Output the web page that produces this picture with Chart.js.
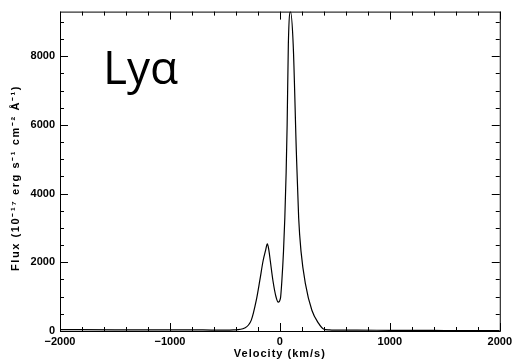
<!DOCTYPE html>
<html>
<head>
<meta charset="utf-8">
<script src="https://cdn.jsdelivr.net/npm/chart.js@4.4.1/dist/chart.umd.min.js"></script>
<style>
  html,body{margin:0;padding:0;background:#fff;}
  #wrap{width:516px;height:363px;position:relative;}
</style>
</head>
<body>
<div id="wrap"><canvas id="c" width="516" height="363"></canvas></div>
<script>
// data
const velocity = [-2000,-1500,-1000,-700,-500,-420,-320,-260,-215,-183,-153,-130,-114,-100,-87,-63,-36,-15,5,18,33,45,57,66,77,96,121,150,171,192,232,291,351,396,450,500,700,1000,1500,2000];
const flux     = [40,35,35,30,25,30,86,316,890,1464,2038,2350,2534,2350,2038,1464,1005,841,950,1464,2325,3300,4621,6000,8352,9300,8352,5195,3280,2325,1378,603,230,60,30,25,25,20,15,10];
const xMajor = [-2000,-1000,0,1000,2000];
const yMajor = [0,2000,4000,6000,8000];
const xMinorStep = 200, yMinorStep = 500;
const lineLabel = 'Ly\u03b1';
const xTitle = 'Velocity (km/s)';
const yTitle = 'Flux (10\u207b\u00b9\u2077 erg s\u207b\u00b9 cm\u207b\u00b2 \u00c5\u207b\u00b9)';

const minus = v => (v < 0 ? '\u2212' + Math.abs(v) : '' + v);
const tickFont = {family:'Liberation Sans', size:11, weight:'bold'};

// frame with inward ticks, IDL style, plus titles
const frame = {
  id:'frame',
  afterDatasetsDraw(chart){
    const {ctx, chartArea:a, scales:{x, y}} = chart;
    ctx.save();
    ctx.strokeStyle = '#000';
    ctx.lineWidth = 1;
    ctx.strokeRect(a.left+0.5, a.top+0.5, a.right-a.left, a.bottom-a.top);
    ctx.beginPath();
    for (let v = x.min; v <= x.max; v += xMinorStep){
      const px = Math.round(x.getPixelForValue(v))+0.5;
      const len = xMajor.includes(v) ? 8 : 4;
      ctx.moveTo(px, a.bottom); ctx.lineTo(px, a.bottom-len);
      ctx.moveTo(px, a.top); ctx.lineTo(px, a.top+len);
    }
    for (let v = 0; v <= y.max; v += yMinorStep){
      const py = Math.round(y.getPixelForValue(v))+0.5;
      const len = yMajor.includes(v) ? 8 : 4;
      ctx.moveTo(a.left, py); ctx.lineTo(a.left+len, py);
      ctx.moveTo(a.right, py); ctx.lineTo(a.right-len, py);
    }
    ctx.stroke();

    ctx.fillStyle = '#000';
    ctx.font = '46px "Open Sans"';
    ctx.textBaseline = 'alphabetic';
    ctx.textAlign = 'left';
    ctx.fillText(lineLabel, 103, 84);

    // axis titles
    ctx.font = 'bold 11px "Liberation Sans"';
    ctx.textAlign = 'center';
    ctx.textBaseline = 'middle';
    ctx.letterSpacing = '1px';
    ctx.fillText(xTitle, (a.left+a.right)/2, 354);
    ctx.translate(16, 178);
    ctx.rotate(-Math.PI/2);
    ctx.font = 'bold 11px "Liberation Sans"';
    ctx.letterSpacing = '1.6px';
    ctx.fillText(yTitle, 0, 0);
    ctx.restore();
  }
};

new Chart(document.getElementById('c'), {
  type:'line',
  data:{
    datasets:[{
      data: velocity.map((v,i)=>({x:v, y:flux[i]})),
      borderColor:'#000',
      borderWidth:1.2,
      pointRadius:0,
      cubicInterpolationMode:'monotone',
      fill:false
    }]
  },
  options:{
    responsive:false,
    animation:false,
    layout:{padding:{top:7, right:12, left:0, bottom:0}},
    plugins:{legend:{display:false}, tooltip:{enabled:false}},
    scales:{
      x:{
        type:'linear', min:-2000, max:2000,
        grid:{display:false, drawTicks:false},
        border:{display:false},
        afterBuildTicks:s=>{ s.ticks = xMajor.map(v=>({value:v})); },
        afterFit:s=>{ s.height = 32; },
        ticks:{color:'#000', font:tickFont, padding:4, maxRotation:0, callback:v=>minus(v)}
      },
      y:{
        type:'linear', min:0, max:9300,
        grid:{display:false, drawTicks:false},
        border:{display:false},
        afterBuildTicks:s=>{ s.ticks = yMajor.map(v=>({value:v})); },
        afterFit:s=>{ s.width = 60; },
        ticks:{color:'#000', font:tickFont, padding:5, callback:v=>minus(v)}
      }
    }
  },
  plugins:[frame]
});
</script>
</body>
</html>
